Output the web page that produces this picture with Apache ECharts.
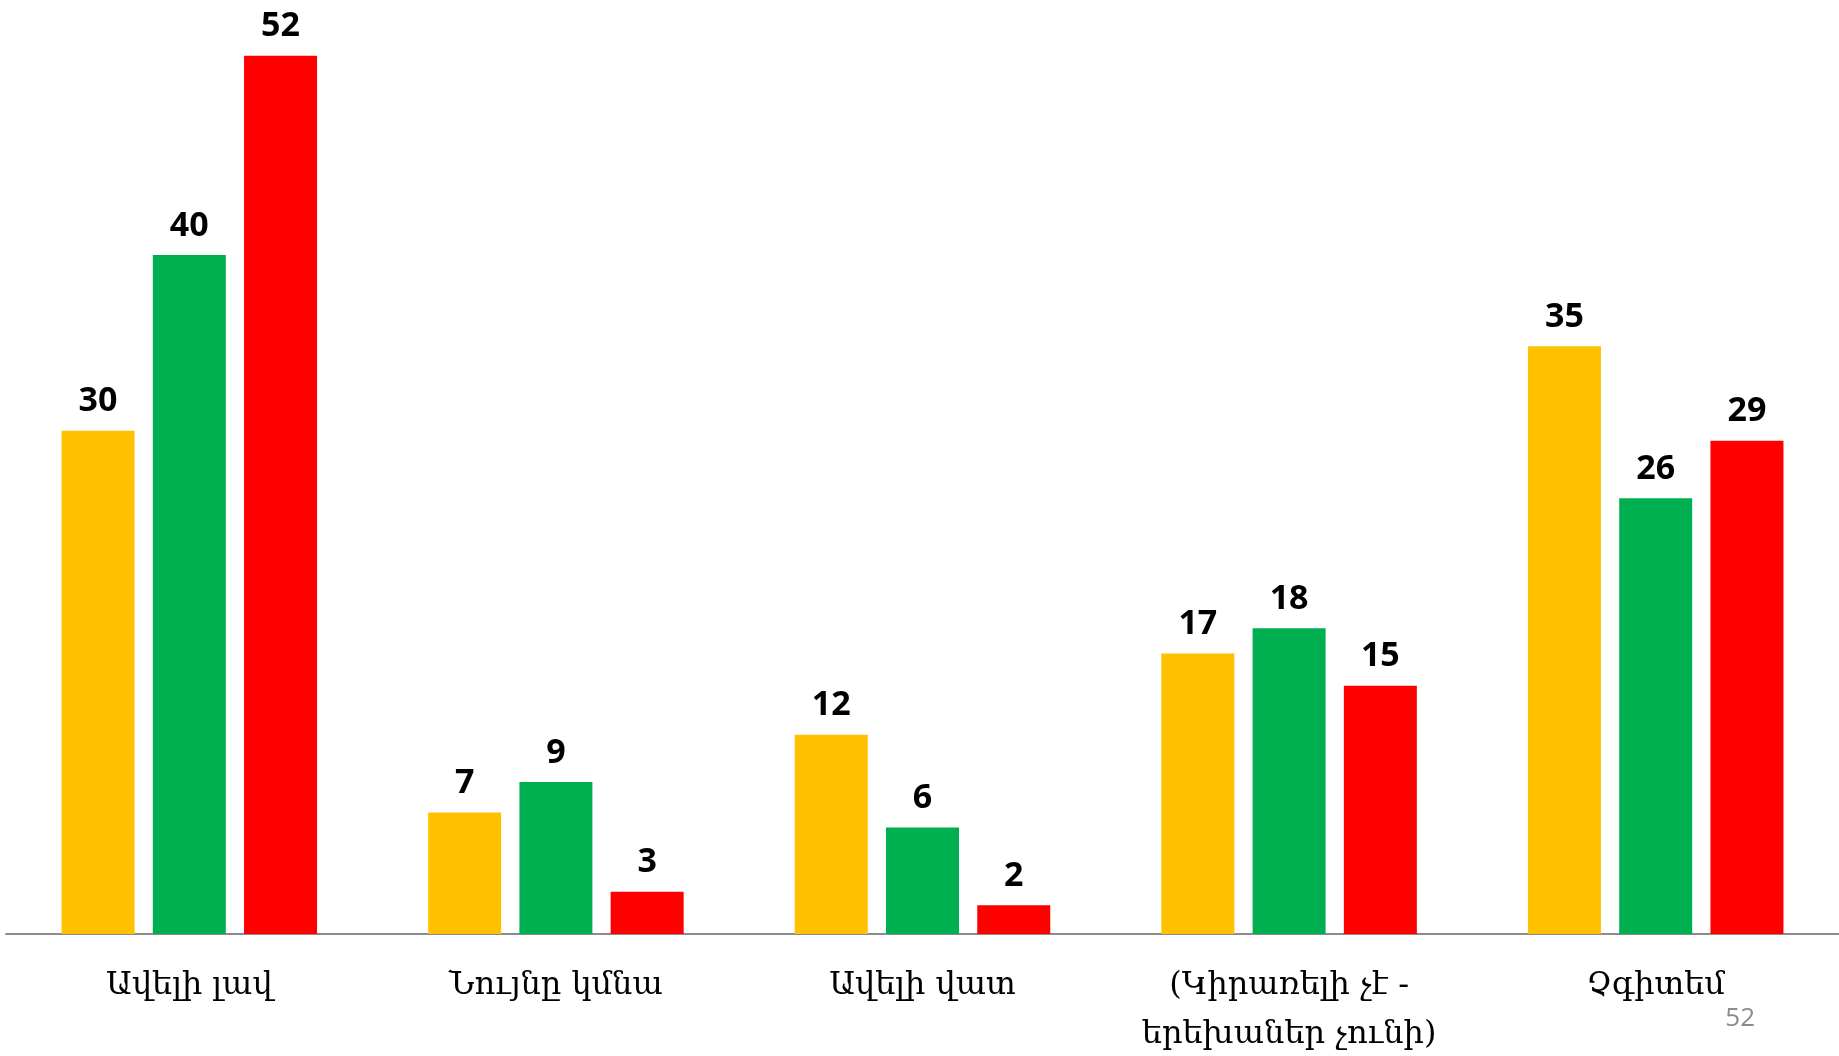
<!DOCTYPE html>
<html>
<head>
<meta charset="utf-8">
<title>chart</title>
<script src="https://cdn.jsdelivr.net/npm/echarts@6/dist/echarts.min.js"></script>
<style>
  html, body { margin: 0; padding: 0; background: #fff; }
  #chart { width: 1839px; height: 1056px; }
</style>
</head>
<body>
<div id="chart"></div>
<script>
const categories = ['Ավելի լավ', 'Նույնը կմնա', 'Ավելի վատ', '(Կիրառելի չէ -\nերեխաներ չունի)', 'Չգիտեմ']
const seriesNames = ['Շարք 1', 'Շարք 2', 'Շարք 3']
// values; the labels show them rounded
const values1 = [29.8, 7.2, 11.8, 16.6, 34.8]
const values2 = [40.2, 9.0, 6.3, 18.1, 25.8]
const values3 = [52.0, 2.5, 1.7, 14.7, 29.2]
const pageNumber = '52'

const colors = ['#FFC000', '#00B050', '#FF0000']
const allValues = [values1, values2, values3]

const chart = echarts.init(document.getElementById('chart'))
chart.setOption({
  animation: false,
  color: colors,
  grid: {
    top: 5,
    left: 6,
    right: 0,
    bottom: 122,
    outerBoundsMode: 'none'
  },
  xAxis: {
    type: 'category',
    data: categories,
    axisTick: { show: false },
    axisLine: {
      lineStyle: { color: '#8c8c8c', width: 2 }
    },
    axisLabel: {
      color: '#000',
      fontFamily: 'DejaVu Serif',
      fontSize: 32,
      lineHeight: 49,
      margin: 27,
      interval: 0
    }
  },
  yAxis: {
    type: 'value',
    min: 0,
    max: 55,
    show: false,
    splitLine: { show: false }
  },
  series: allValues.map((vals, i) => ({
    name: seriesNames[i],
    type: 'bar',
    data: vals,
    barWidth: 73,
    barGap: '25%',
    label: {
      show: true,
      position: 'top',
      distance: 12,
      color: '#000',
      fontFamily: 'Open Sans',
      fontWeight: 'bold',
      fontSize: 34,
      formatter: p => Math.round(p.value)
    }
  })),
  graphic: [
    {
      type: 'text',
      right: 84,
      top: 1006,
      style: {
        text: pageNumber,
        fill: '#8c8c8c',
        fontFamily: 'Open Sans',
        fontSize: 26
      }
    }
  ]
})
</script>
</body>
</html>
